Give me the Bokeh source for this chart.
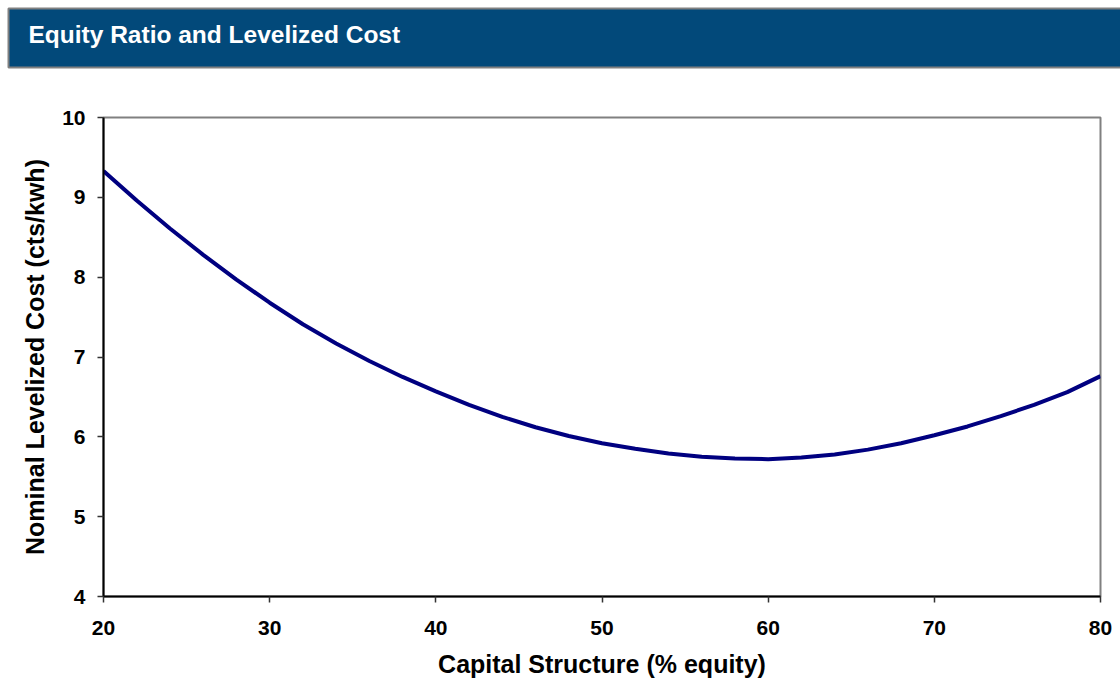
from bokeh.plotting import figure
from bokeh.models import Range1d, FixedTicker, LinearAxis
from bokeh.embed import file_html
from bokeh.resources import INLINE

# ---- data ----
equity_pct = [20, 22, 24, 26, 28, 30, 32, 34, 36, 38, 40, 42, 44, 46, 48, 50,
              52, 54, 56, 58, 60, 62, 64, 66, 68, 70, 72, 74, 76, 78, 80]
levelized_cost = [9.33, 8.96, 8.61, 8.28, 7.97, 7.68, 7.41, 7.17, 6.95, 6.75,
                  6.57, 6.40, 6.25, 6.12, 6.01, 5.92, 5.85, 5.79, 5.75, 5.73,
                  5.72, 5.74, 5.78, 5.84, 5.92, 6.02, 6.13, 6.26, 6.40, 6.56, 6.76]
x_ticks = [20, 30, 40, 50, 60, 70, 80]
y_ticks = [4, 5, 6, 7, 8, 9, 10]
title_text = "Equity Ratio and Levelized Cost"
x_label = "Capital Structure (% equity)"
y_label = "Nominal Levelized Cost (cts/kwh)"

FONT = "Liberation Sans"
HEADER_BG = "#02497a"
W, H = 1120, 690

p = figure(width=W, height=H, x_range=Range1d(20, 80), y_range=Range1d(4, 10),
           output_backend="svg", toolbar_location=None,
           min_border_left=103, min_border_right=20,
           min_border_top=117, min_border_bottom=94)
p.line(equity_pct, levelized_cost, line_color="#000080", line_width=4)

xaxis = p.below[0]
yaxis = p.left[0]

# invisible spacer axis above the frame: leaves the white gap under the header
spacer = LinearAxis(ticker=FixedTicker(ticks=[50]), axis_line_color=None,
                    major_tick_line_color=None, minor_tick_line_color=None,
                    major_tick_out=50, major_tick_in=0,
                    minor_tick_out=0, minor_tick_in=0,
                    major_label_standoff=0, major_label_text_font_size="0px",
                    major_label_text_alpha=0,
                    major_label_overrides={50: ""})
p.add_layout(spacer, "above")

# header band drawn as the title's padded background
p.title.text = title_text
p.title.align = "left"
p.title.vertical_align = "bottom"
p.title.offset = -95
p.title.standoff = 0
p.title.text_color = "white"
p.title.text_font = FONT
p.title.text_font_size = "24.5px"
p.title.text_font_style = "bold"
p.title.background_fill_color = HEADER_BG
p.title.border_line_color = "#808080"
p.title.border_line_width = 2
p.title.padding = dict(left=20, right=800, top=12, bottom=20)

p.grid.visible = False
p.background_fill_color = "white"
p.border_fill_color = "white"
p.outline_line_color = "#808080"
p.outline_line_width = 2

xaxis.ticker = FixedTicker(ticks=x_ticks)
yaxis.ticker = FixedTicker(ticks=y_ticks)
xaxis.axis_label = x_label
yaxis.axis_label = y_label

for ax in [xaxis, yaxis]:
    ax.axis_line_color = "black"
    ax.axis_line_width = 2
    ax.major_tick_line_color = "#333333"
    ax.major_tick_line_width = 1.5
    ax.major_tick_out = 6
    ax.major_tick_in = 0
    ax.minor_tick_out = 0
    ax.minor_tick_in = 0
    ax.major_label_text_font = FONT
    ax.major_label_text_font_style = "bold"
    ax.major_label_text_font_size = "21px"
    ax.major_label_text_color = "black"
    ax.axis_label_text_font = FONT
    ax.axis_label_text_font_style = "bold"
    ax.axis_label_text_font_size = "25px"
    ax.axis_label_text_color = "black"

xaxis.major_label_standoff = 18
yaxis.major_label_standoff = 12
xaxis.axis_label_standoff = 12
yaxis.axis_label_standoff = 10

open("out.html", "w").write(file_html(p, INLINE))
